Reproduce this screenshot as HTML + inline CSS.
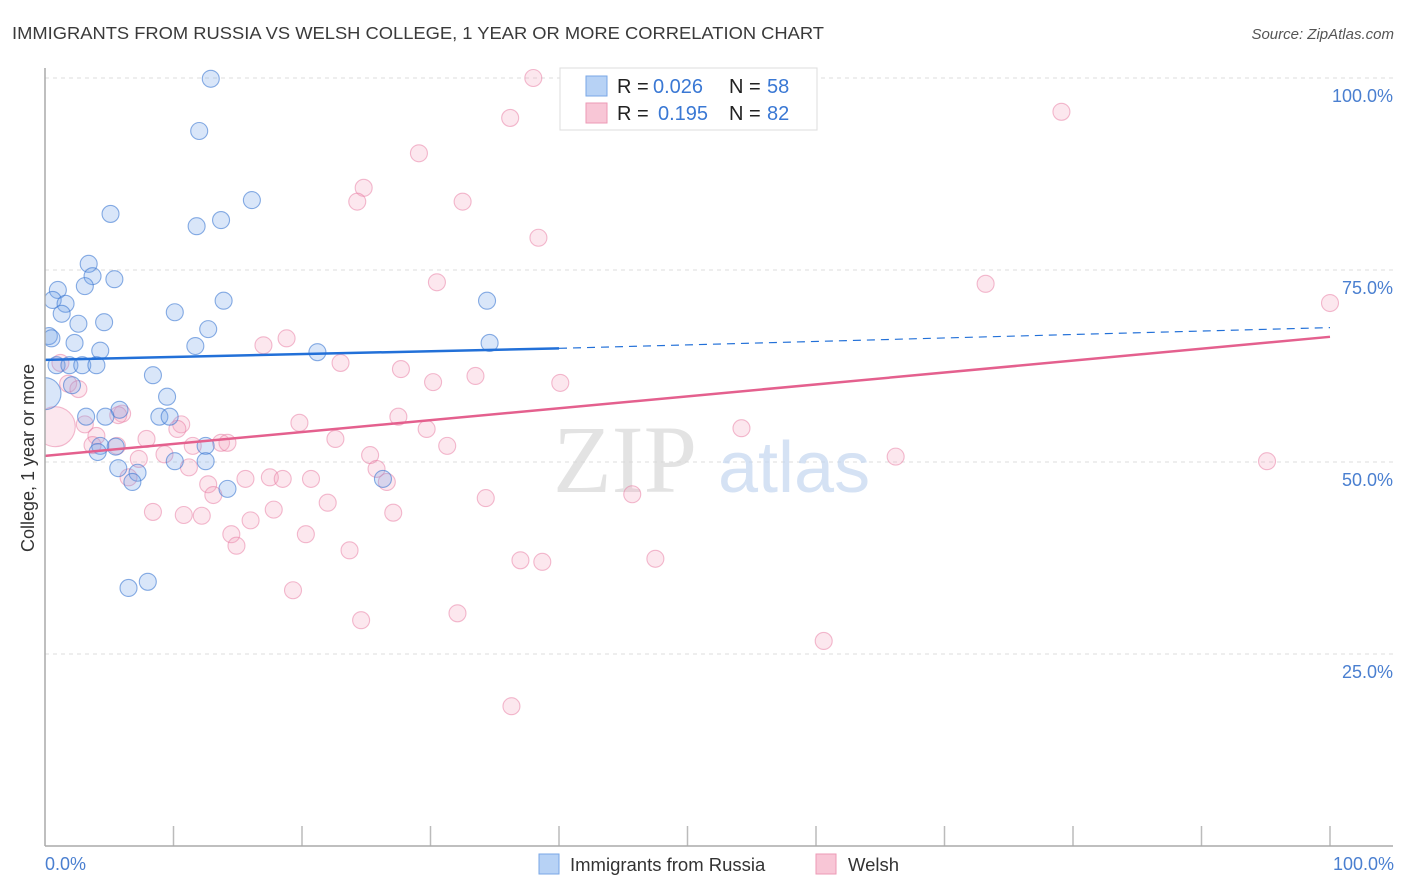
<!DOCTYPE html>
<html><head><meta charset="utf-8"><style>
body{margin:0;background:#fff;font-family:"Liberation Sans",sans-serif}
svg{display:block}
</style></head><body>
<svg id="chart" width="1406" height="892" viewBox="0 0 1406 892" xmlns="http://www.w3.org/2000/svg">
<defs><clipPath id="plot"><rect x="45" y="60" width="1360" height="786"/></clipPath></defs>
<text x="12" y="39" font-size="17.5" fill="#3a3a3a" textLength="812" lengthAdjust="spacingAndGlyphs">IMMIGRANTS FROM RUSSIA VS WELSH COLLEGE, 1 YEAR OR MORE CORRELATION CHART</text>
<text x="1394" y="39" font-size="15" font-style="italic" fill="#555" text-anchor="end">Source: ZipAtlas.com</text>
<g id="grid"></g>
<text x="553" y="492" font-family="Liberation Serif,serif" font-size="96" fill="#d8d8d8" opacity="0.7">ZIP</text>
<text x="718" y="492" font-size="72" fill="#c4d6f0" opacity="0.7">atlas</text>
<g id="pts" clip-path="url(#plot)"></g>
<g id="lines"></g>
<line x1="45" y1="68" x2="45" y2="846" stroke="#aaa" stroke-width="1.5"/>
<line x1="45" y1="846" x2="1393" y2="846" stroke="#aaa" stroke-width="1.5"/>
<text transform="translate(34,458) rotate(-90)" font-size="18" fill="#333" text-anchor="middle">College, 1 year or more</text>
<text x="45" y="870" font-size="18" fill="#4a7fd0">0.0%</text>
<text x="1394" y="870" font-size="18" fill="#4a7fd0" text-anchor="end">100.0%</text>
<g>
<rect x="560" y="68" width="257" height="62" fill="#fff" stroke="#ddd"/>
<rect x="586" y="76" width="21" height="20" fill="#b7d2f5" stroke="#7aa7e6"/>
<rect x="586" y="103" width="21" height="20" fill="#f8c6d6" stroke="#ec9ab6"/>
<text x="617" y="93" font-size="20" fill="#222">R = <tspan x="653" fill="#3a78d4">0.026</tspan><tspan x="729">N = </tspan><tspan x="767" fill="#3a78d4">58</tspan></text>
<text x="617" y="120" font-size="20" fill="#222">R = <tspan x="658" fill="#3a78d4">0.195</tspan><tspan x="729">N = </tspan><tspan x="767" fill="#3a78d4">82</tspan></text>
</g>
<g>
<rect x="539" y="854" width="20" height="20" fill="#b7d2f5" stroke="#7aa7e6"/>
<text x="570" y="871" font-size="18.5" fill="#333">Immigrants from Russia</text>
<rect x="816" y="854" width="20" height="20" fill="#f8c6d6" stroke="#ec9ab6"/>
<text x="848" y="871" font-size="18.5" fill="#333">Welsh</text>
</g>
</svg>
<script>
const yTicks=[25,50,75,100];
const yTickLabels=["25.0%","50.0%","75.0%","100.0%"];
const xTicks=[10,20,30,40,50,60,70,80,90,100];
const russiaX=[12.9,12.0,5.1,16.1,13.7,11.8,3.4,3.7,5.4,1.0,3.1,0.6,1.6,1.3,34.4,13.9,10.1,4.6,2.6,12.7,0.3,0.5,2.3,11.7,4.3,21.2,34.6,0.9,1.9,2.9,4.0,8.4,2.1,0,9.5,5.8,3.2,4.7,8.9,9.7,4.3,4.1,12.5,5.5,10.1,12.5,5.7,7.2,6.8,14.2,26.3,8.0,6.5];
const russiaY=[99.9,93.1,82.3,84.1,81.5,80.7,75.8,74.2,73.8,72.4,72.9,71.1,70.6,69.3,71.0,71.0,69.5,68.2,68.0,67.3,66.4,66.1,65.5,65.1,64.5,64.3,65.5,62.6,62.6,62.6,62.6,61.3,60.0,58.9,58.5,56.8,55.9,55.9,55.9,55.9,52.1,51.3,52.1,52.0,50.1,50.1,49.2,48.6,47.4,46.5,47.8,34.4,33.6];
const welshX=[38.0,41.2,79.1,36.2,29.1,24.8,24.3,32.5,38.4,30.5,73.2,100,18.8,17.0,1.2,23.0,27.7,33.5,30.2,40.1,1.8,2.6,0.8,6.0,27.5,5.7,19.8,10.6,10.3,29.7,54.2,3.1,4.0,7.9,22.6,9.3,13.7,14.2,3.7,5.6,11.5,31.3,25.3,7.3,66.2,95.1,11.2,25.8,26.6,17.5,18.5,20.7,15.6,12.7,45.7,13.1,34.3,22.0,6.5,8.4,17.8,27.1,10.8,12.2,16.0,14.5,20.3,14.9,23.7,37.0,38.7,47.5,19.3,32.1,24.6,60.6,36.3];
const welshY=[100.0,99.9,95.6,94.8,90.2,85.7,83.9,83.9,79.2,73.4,73.2,70.7,66.1,65.2,62.9,62.9,62.1,61.2,60.4,60.3,60.2,59.5,54.6,56.3,55.9,56.1,55.1,54.9,54.3,54.3,54.4,54.9,53.4,53.0,53.0,51.0,52.5,52.5,52.2,52.1,52.1,52.1,50.9,50.4,50.7,50.1,49.3,49.1,47.4,48.0,47.8,47.8,47.8,47.1,45.8,45.7,45.3,44.7,48.0,43.5,43.8,43.4,43.1,43.0,42.4,40.6,40.6,39.1,38.5,37.2,37.0,37.4,33.3,30.3,29.4,26.7,18.2];
const russiaTrend=[63.3,64.8,67.5]; // at x=0, 40 (end solid), 100
const welshTrend=[50.8,66.3]; // at x=0, 100
const NS="http://www.w3.org/2000/svg";
const xs=v=>45+v*12.85;
const ys=v=>846-v*7.68;
function mk(tag,attrs,parent){const e=document.createElementNS(NS,tag);for(const k in attrs)e.setAttribute(k,attrs[k]);parent.appendChild(e);return e;}
const grid=document.getElementById('grid');
yTicks.forEach((t,i)=>{
  const l=mk('line',{x1:45,x2:1393,y1:ys(t),y2:ys(t),stroke:'#ddd','stroke-dasharray':'4,4'},grid);
  
  
  const tx=mk('text',{x:1393,y:ys(t)+24,'font-size':18,fill:'#4a7fd0','text-anchor':'end'},grid);
  tx.textContent=yTickLabels[i];
  
  
});
xTicks.forEach(t=>{
  const l=mk('line',{x1:xs(t),x2:xs(t),y1:826,y2:846,stroke:'#bbb','stroke-width':1.5},grid);
  
  
});
const pts=document.getElementById('pts');
welshX.forEach((x,i)=>{
  const big=(x===0.8&&welshY[i]===54.6);
  const c=mk('circle',{cx:xs(x),cy:ys(welshY[i]),r:big?20:8.5,fill:'rgba(244,160,188,0.25)',stroke:'rgba(232,120,160,0.5)','stroke-width':1.1},pts);
  
  
});
russiaX.forEach((x,i)=>{
  const big=(x===0&&russiaY[i]===58.9);
  const c=mk('circle',{cx:xs(x),cy:ys(russiaY[i]),r:big?16:8.5,fill:'rgba(120,165,235,0.28)',stroke:'rgba(60,120,210,0.6)','stroke-width':1.1},pts);
  
  
});
const lines=document.getElementById('lines');
const l1=mk('line',{x1:xs(0),y1:ys(russiaTrend[0]),x2:xs(40),y2:ys(russiaTrend[1]),stroke:'#2270d8','stroke-width':2.5},lines);


const l2=mk('line',{x1:xs(40),y1:ys(russiaTrend[1]),x2:xs(100),y2:ys(russiaTrend[2]),stroke:'#2270d8','stroke-width':1.2,'stroke-dasharray':'8,6'},lines);


const l3=mk('line',{x1:xs(0),y1:ys(welshTrend[0]),x2:xs(100),y2:ys(welshTrend[1]),stroke:'#e4608e','stroke-width':2.5},lines);


</script>
</body></html>
